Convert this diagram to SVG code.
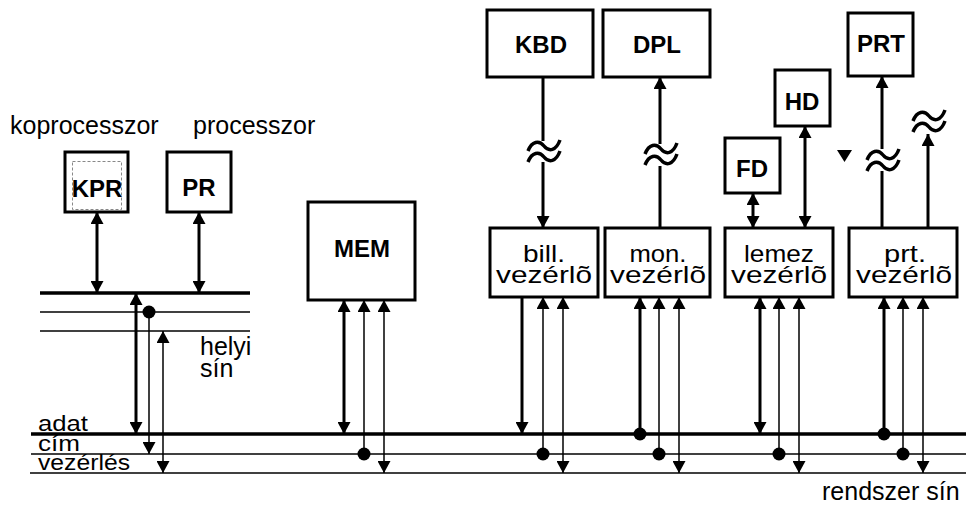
<svg xmlns="http://www.w3.org/2000/svg" xmlns:xlink="http://www.w3.org/1999/xlink" width="966" height="506" viewBox="0 0 966 506">
<style>
text{font-family:"Liberation Sans",Arial,Helvetica,sans-serif;fill:#000}
.t{font-size:25px}
.s{font-size:22px}
.b{font-size:24px;font-weight:bold;text-anchor:middle}
.c{font-size:24px;text-anchor:middle}
.box{fill:#fff;stroke:#000;stroke-width:3}
.thk{stroke:#000;stroke-width:3;fill:none}
.thn{stroke:#000;stroke-width:1.5;fill:none}
.bus1{stroke:#000;stroke-width:3.5}
.bus2{stroke:#000;stroke-width:1.5}
.ba{marker-end:url(#arr);marker-start:url(#arr)}
.ea{marker-end:url(#arr)}
.da{marker-start:url(#dot);marker-end:url(#arr)}
.tl{stroke:#000;stroke-width:3.5;fill:none}
</style>
<defs>
<marker id="arr" markerUnits="userSpaceOnUse" viewBox="0 0 12 13" refX="12" refY="6.5" markerWidth="12" markerHeight="13" orient="auto-start-reverse"><path d="M0,0 L12,6.5 L0,13 z" fill="#000"/></marker>
<marker id="dot" markerUnits="userSpaceOnUse" viewBox="0 0 14 14" refX="7" refY="7" markerWidth="14" markerHeight="14"><circle cx="7" cy="7" r="6.5" fill="#000"/></marker>
<path id="tilde" d="M-16,5 C-12,-5 -5,-6 0,0 S12,5 16,-6"/>
</defs>
<rect width="966" height="506" fill="#fff"/>

<g id="buses">
<line class="bus1" x1="40" y1="293" x2="250" y2="293"/>
<line class="bus2" x1="40" y1="312" x2="250" y2="312"/>
<line class="bus2" x1="40" y1="331" x2="250" y2="331"/>
<line class="bus1" x1="31" y1="434" x2="966" y2="434"/>
<line class="bus2" x1="31" y1="454" x2="966" y2="454"/>
<line class="bus2" x1="30" y1="473" x2="966" y2="473"/>
<text class="t" x="200" y="355">helyi</text>
<text class="t" x="200" y="377">sín</text>
<text class="s" x="38" y="431" textLength="50" lengthAdjust="spacingAndGlyphs">adat</text>
<text class="s" x="38" y="451" textLength="42" lengthAdjust="spacingAndGlyphs">cím</text>
<text class="s" x="38" y="470" textLength="92" lengthAdjust="spacingAndGlyphs">vezérlés</text>
<text class="t" x="822" y="500">rendszer sín</text>
</g>

<g id="connectors">
<path class="thk ba" d="M97,212 V293"/>
<path class="thk ba" d="M199,212 V293"/>
<path class="thk ba" d="M136,293 V434"/>
<path class="thn da" d="M149,312 V454"/>
<path class="thn ba" d="M163,331 V473"/>

<path class="thk ba" d="M344,300 V434"/>
<path class="thn da" d="M364,454 V300"/>
<path class="thn ba" d="M384,300 V473"/>

<path class="thk ea" d="M522,297 V434"/>
<path class="thn da" d="M543,454 V297"/>
<path class="thn ba" d="M563,297 V473"/>

<path class="thk da" d="M640,434 V297"/>
<path class="thn da" d="M659,454 V297"/>
<path class="thn ba" d="M679,297 V473"/>

<path class="thk ba" d="M760,297 V434"/>
<path class="thn da" d="M779,454 V297"/>
<path class="thn ba" d="M799,297 V473"/>

<path class="thk da" d="M884,434 V297"/>
<path class="thn da" d="M903,454 V297"/>
<path class="thn ba" d="M923,297 V473"/>

<path class="thk" d="M543,77 V141"/>
<path class="thk ea" d="M543,162 V228"/>
<use xlink:href="#tilde" href="#tilde" class="tl" x="544" y="146"/>
<use xlink:href="#tilde" href="#tilde" class="tl" x="544" y="157"/>

<path class="thk" d="M660,228 V166"/>
<path class="thk ea" d="M660,144 V77"/>
<use xlink:href="#tilde" href="#tilde" class="tl" x="661" y="149"/>
<use xlink:href="#tilde" href="#tilde" class="tl" x="661" y="160"/>

<path class="thk ba" d="M753,193 V228"/>
<path class="thk ba" d="M805,126 V228"/>

<path class="thk" d="M882,228 V171"/>
<path class="thk ea" d="M882,149 V76"/>
<use xlink:href="#tilde" href="#tilde" class="tl" x="883" y="155"/>
<use xlink:href="#tilde" href="#tilde" class="tl" x="883" y="166"/>

<path class="thk ea" d="M928,228 V134"/>
<use xlink:href="#tilde" href="#tilde" class="tl" x="929" y="116"/>
<use xlink:href="#tilde" href="#tilde" class="tl" x="929" y="127"/>

<path d="M837,150 H852 L844.5,162 z" fill="#000"/>
</g>

<g id="labels">
<text class="t" x="10" y="134">koprocesszor</text>
<text class="t" x="193" y="134">processzor</text>
</g>

<g id="KPR">
<rect class="box" x="65" y="152" width="63" height="60"/>
<rect x="72.5" y="161.5" width="49" height="48" fill="none" stroke="#888" stroke-width="1" stroke-dasharray="3 2"/>
<text class="b" x="97" y="197">KPR</text>
</g>
<g id="PR">
<rect class="box" x="167" y="152" width="64" height="60"/>
<text class="b" x="199" y="196">PR</text>
</g>
<g id="MEM">
<rect class="box" x="308" y="202" width="107" height="98"/>
<text class="b" x="362" y="257">MEM</text>
</g>
<g id="KBD">
<rect class="box" x="487" y="10" width="106" height="67"/>
<text class="b" x="541" y="53">KBD</text>
</g>
<g id="DPL">
<rect class="box" x="603" y="10" width="107" height="67"/>
<text class="b" x="657" y="53">DPL</text>
</g>
<g id="PRT">
<rect class="box" x="848" y="13" width="65" height="63"/>
<text class="b" x="881" y="52">PRT</text>
</g>
<g id="HD">
<rect class="box" x="775" y="70" width="55" height="56"/>
<text class="b" x="802" y="110">HD</text>
</g>
<g id="FD">
<rect class="box" x="725" y="138" width="55" height="55"/>
<text class="b" x="752" y="177">FD</text>
</g>
<g id="bill">
<rect class="box" x="490" y="228" width="108" height="69"/>
<text class="c" x="544" y="262" textLength="42" lengthAdjust="spacingAndGlyphs">bill.</text>
<text class="c" x="544" y="283" textLength="96" lengthAdjust="spacingAndGlyphs">vezérlõ</text>
</g>
<g id="mon">
<rect class="box" x="605" y="228" width="105" height="69"/>
<text class="c" x="658" y="262" textLength="57" lengthAdjust="spacingAndGlyphs">mon.</text>
<text class="c" x="658" y="283" textLength="96" lengthAdjust="spacingAndGlyphs">vezérlõ</text>
</g>
<g id="lemez">
<rect class="box" x="725" y="228" width="108" height="69"/>
<text class="c" x="779" y="262" textLength="70" lengthAdjust="spacingAndGlyphs">lemez</text>
<text class="c" x="779" y="283" textLength="96" lengthAdjust="spacingAndGlyphs">vezérlõ</text>
</g>
<g id="prt">
<rect class="box" x="849" y="228" width="108" height="69"/>
<text class="c" x="905" y="262" textLength="42" lengthAdjust="spacingAndGlyphs">prt.</text>
<text class="c" x="904" y="283" textLength="96" lengthAdjust="spacingAndGlyphs">vezérlõ</text>
</g>
</svg>
